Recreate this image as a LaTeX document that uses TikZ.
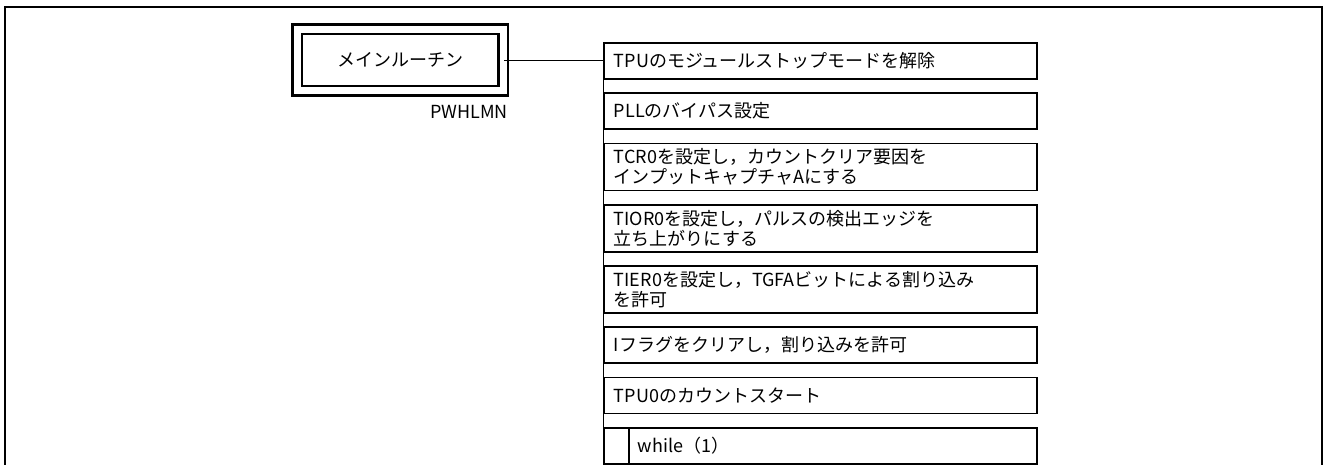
\documentclass[tikz,border=0pt]{standalone}
\usepackage{fontspec}
\setmainfont{Noto Sans CJK JP}
\usetikzlibrary{positioning}

\tikzset{
  frame/.style={line width=1.6pt},
  procbox/.style={draw, line width=1.4pt, fill=white, anchor=north west,
    minimum width=324.75pt, minimum height=27pt, text width=309.75pt,
    inner xsep=7.5pt, inner ysep=0pt, align=left},
  twoline/.style={procbox, minimum height=35.25pt},
  mainbox/.style={draw, line width=1.8pt, double, double distance=5.25pt,
    minimum width=154.5pt, minimum height=46pt},
  link/.style={line width=0.6pt}
}

\begin{document}
\begin{tikzpicture}[x=0.75pt,y=-0.75pt,font=\fontsize{13.5pt}{15pt}\selectfont]
\useasboundingbox (0,0) rectangle (1324,464);
\draw[frame] (5,470) |- (1322,7) -- (1322,470);

% main routine
\node[mainbox] (main) at (400,60) {メインルーチン};
\node[anchor=north east, inner sep=0pt] (mainlbl) at (508,105) {PWHLMN};

% processing steps
\node[procbox] (b1) at (603,42) {TPUのモジュールストップモードを解除};
\node[procbox, below=9.3pt of b1] (b2) {PLLのバイパス設定};
\node[twoline, below=9.3pt of b2] (b3) {TCR0を設定し，カウントクリア要因を\\インプットキャプチャAにする};
\node[twoline, below=9.3pt of b3] (b4) {TIOR0を設定し，パルスの検出エッジを\\立ち上がりにする};
\node[twoline, below=9.3pt of b4] (b5) {TIER0を設定し，TGFAビットによる割り込み\\を許可};
\node[procbox, below=9.3pt of b5] (b6) {Iフラグをクリアし，割り込みを許可};
\node[procbox, below=9.3pt of b6] (b7) {TPU0のカウントスタート};
\node[procbox, below=9.3pt of b7] (b8) {\hspace*{18pt}while（1）};
\node[draw, line width=1.4pt, anchor=west, minimum width=18.75pt, minimum height=27pt,
  inner sep=0pt] (cell) at (b8.west) {};

% connectors
\draw[link] (main.east) -- (main.east -| b1.west);
\draw[link] (b1.south west) -- (b8.north west);
\end{tikzpicture}
\end{document}
